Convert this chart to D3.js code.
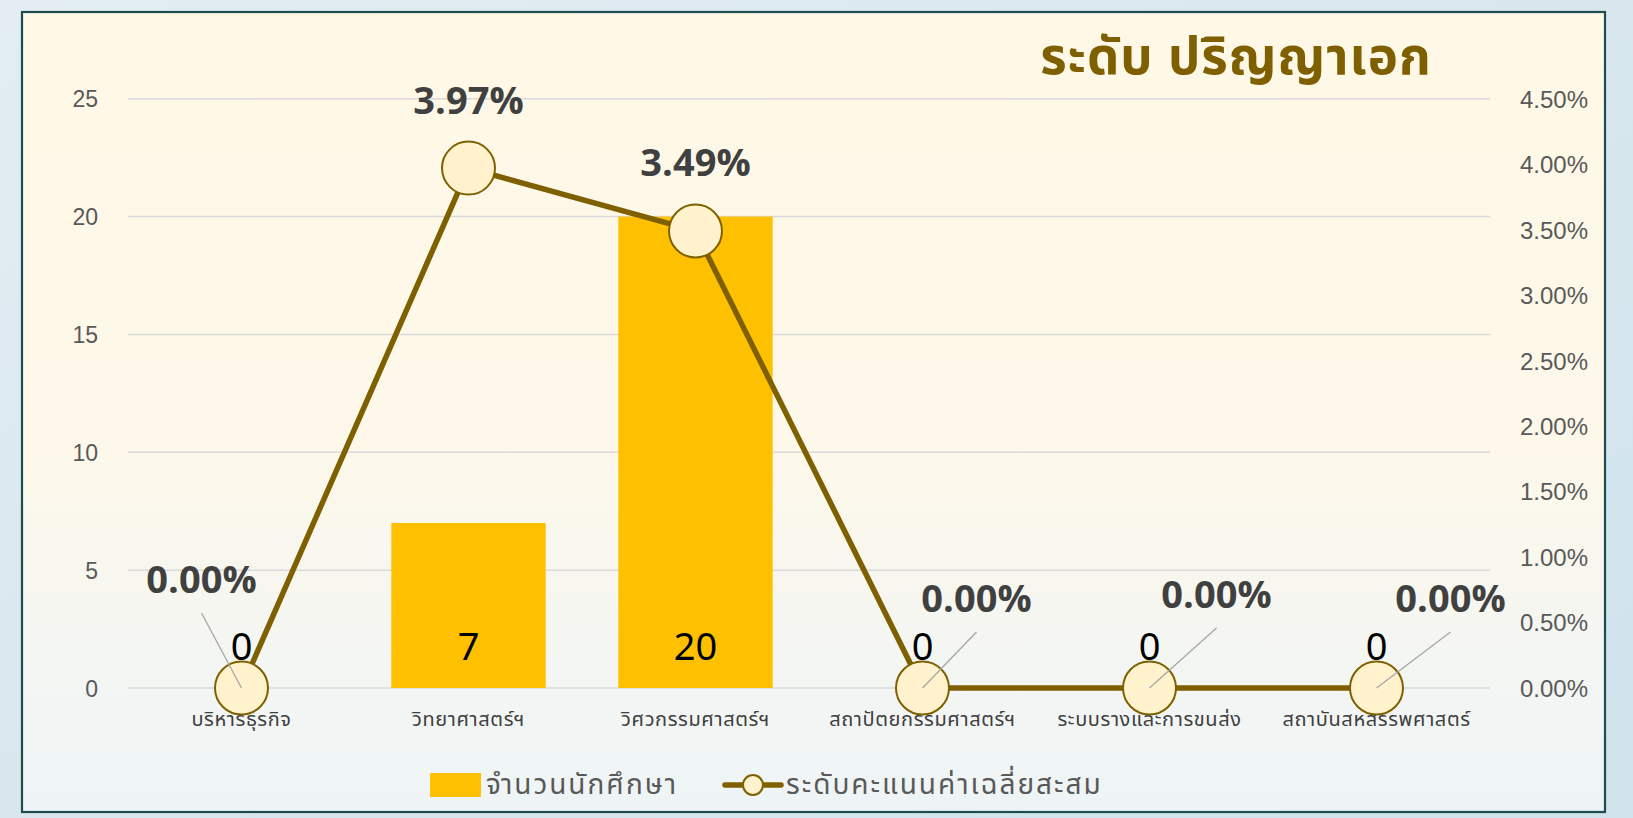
<!DOCTYPE html>
<html>
<head>
<meta charset="utf-8">
<script src="https://cdn.jsdelivr.net/npm/d3@7"></script>
<style>
  html, body { margin: 0; padding: 0; background: #dbe8ef; }
  svg { display: block; font-family: "Noto Sans Thai", "Noto Sans", "DejaVu Sans", sans-serif; }
</style>
</head>
<body>
<div id="chart"></div>
<script>
// chart data
var categories = ["บริหารธุรกิจ", "วิทยาศาสตร์ฯ", "วิศวกรรมศาสตร์ฯ", "สถาปัตยกรรมศาสตร์ฯ", "ระบบรางและการขนส่ง", "สถาบันสหสรรพศาสตร์"];
var students = [0, 7, 20, 0, 0, 0];
var gpaPct = [0.00, 3.97, 3.49, 0.00, 0.00, 0.00];
var leftTicks = [0, 5, 10, 15, 20, 25];
var rightTicks = [0, 0.5, 1, 1.5, 2, 2.5, 3, 3.5, 4, 4.5];
var seriesNames = ["จำนวนนักศึกษา", "ระดับคะแนนค่าเฉลี่ยสะสม"];
var title = "ระดับ ปริญญาเอก";

// label nudges (dx, dy from the point) for the percent labels
var pctLabelOffset = [[-40, -95], [0, -54], [0, -55], [54, -76], [67, -80], [74, -76]];

var W = 1633, H = 818;
var plot = {left: 128, right: 1490, top: 98.7, bottom: 688};

var svg = d3.select("#chart").append("svg")
    .attr("width", W)
    .attr("height", H);

var defs = svg.append("defs");
var grad = defs.append("linearGradient").attr("id", "bg").attr("x1", 0).attr("y1", 0).attr("x2", 0).attr("y2", 1);
grad.append("stop").attr("offset", "0%").attr("stop-color", "#fff8e6");
grad.append("stop").attr("offset", "55%").attr("stop-color", "#fdf8ea");
grad.append("stop").attr("offset", "80%").attr("stop-color", "#f4f6f2");
grad.append("stop").attr("offset", "100%").attr("stop-color", "#eef4f6");

var outer = defs.append("linearGradient").attr("id", "outer").attr("x1", 0).attr("y1", 0).attr("x2", 1).attr("y2", 1);
outer.append("stop").attr("offset", "0%").attr("stop-color", "#e3edf3");
outer.append("stop").attr("offset", "50%").attr("stop-color", "#d8e7ee");
outer.append("stop").attr("offset", "100%").attr("stop-color", "#cfe3ec");

svg.append("rect").attr("width", W).attr("height", H).attr("fill", "url(#outer)");

// frame
svg.append("rect")
    .attr("x", 22).attr("y", 12)
    .attr("width", 1583).attr("height", 800)
    .attr("fill", "url(#bg)")
    .attr("stroke", "#1d4d4f")
    .attr("stroke-width", 2.2);

// scales
var x = d3.scaleBand()
    .domain(categories)
    .range([plot.left, plot.right])
    .paddingInner(0.32)
    .paddingOuter(0.16);

var yL = d3.scaleLinear().domain([0, 25]).range([plot.bottom, plot.top]);
var yR = d3.scaleLinear().domain([0, 4.5]).range([plot.bottom, plot.top]);

var cx = function(i) { return x(categories[i]) + x.bandwidth() / 2; };

// gridlines
svg.append("g")
  .selectAll("line")
  .data(leftTicks)
  .enter()
    .append("line")
    .attr("x1", plot.left).attr("x2", plot.right)
    .attr("y1", function(d) { return yL(d); })
    .attr("y2", function(d) { return yL(d); })
    .attr("stroke", "#d9d9d9")
    .attr("stroke-width", 1.5);

// left axis
var axL = svg.append("g")
    .attr("transform", "translate(" + (plot.left - 30) + ",0)")
    .call(d3.axisLeft(yL).tickValues(leftTicks).tickSize(0).tickPadding(0));
axL.select(".domain").remove();
axL.selectAll("text")
    .attr("fill", "#595959")
    .style("font-size", "23px")
    .attr("dy", "0.35em");

// right axis
var axR = svg.append("g")
    .attr("transform", "translate(" + (plot.right + 30) + ",0)")
    .call(d3.axisRight(yR).tickValues(rightTicks).tickSize(0).tickPadding(0)
      .tickFormat(function(d) { return d3.format(".2f")(d) + "%"; }));
axR.select(".domain").remove();
axR.selectAll("text")
    .attr("fill", "#595959")
    .style("font-size", "24px")
    .attr("dy", "0.35em");

// category labels
svg.append("g")
  .selectAll("text")
  .data(categories)
  .enter()
    .append("text")
    .attr("x", function(d, i) { return cx(i); })
    .attr("y", plot.bottom + 38)
    .attr("text-anchor", "middle")
    .attr("fill", "#404040")
    .style("font-size", "20px")
    .style("letter-spacing", "0.6px")
    .text(function(d) { return d; });

// bars
svg.append("g")
  .selectAll("rect")
  .data(students)
  .enter()
    .append("rect")
    .attr("x", function(d, i) { return x(categories[i]); })
    .attr("y", function(d) { return yL(d); })
    .attr("width", x.bandwidth())
    .attr("height", function(d) { return yL(0) - yL(d); })
    .attr("fill", "#ffc000");

// bar value labels (inside base)
svg.append("g")
  .selectAll("text")
  .data(students)
  .enter()
    .append("text")
    .attr("x", function(d, i) { return cx(i); })
    .attr("y", plot.bottom - 28)
    .attr("text-anchor", "middle")
    .attr("fill", "#000")
    .style("font-size", "38px")
    .text(function(d) { return d; });

// line
var line = d3.line()
    .x(function(d, i) { return cx(i); })
    .y(function(d) { return yR(d); });

svg.append("path")
    .datum(gpaPct)
    .attr("d", line)
    .attr("fill", "none")
    .attr("stroke", "#7f6000")
    .attr("stroke-width", 5.5)
    .attr("stroke-linejoin", "round");

svg.append("g")
  .selectAll("circle")
  .data(gpaPct)
  .enter()
    .append("circle")
    .attr("cx", function(d, i) { return cx(i); })
    .attr("cy", function(d) { return yR(d); })
    .attr("r", 26.5)
    .attr("fill", "#fff2cc")
    .attr("stroke", "#7f6000")
    .attr("stroke-width", 2);

// leader lines for moved labels
var leaders = svg.append("g");
gpaPct.forEach(function(d, i) {
  var off = pctLabelOffset[i];
  if (Math.abs(off[0]) < 10) return;
  leaders.append("line")
    .attr("x1", cx(i) + off[0])
    .attr("y1", yR(d) + off[1] + 20)
    .attr("x2", cx(i))
    .attr("y2", yR(d))
    .attr("stroke", "#a6a6a6")
    .attr("stroke-width", 1.3);
});

// percent labels
svg.append("g")
  .selectAll("text")
  .data(gpaPct)
  .enter()
    .append("text")
    .attr("x", function(d, i) { return cx(i) + pctLabelOffset[i][0]; })
    .attr("y", function(d, i) { return yR(d) + pctLabelOffset[i][1]; })
    .attr("text-anchor", "middle")
    .attr("fill", "#404040")
    .style("font-size", "38px")
    .style("font-weight", "bold")
    .text(function(d) { return d3.format(".2f")(d) + "%"; });

// title
svg.append("text")
    .attr("x", 1236)
    .attr("y", 74)
    .attr("text-anchor", "middle")
    .attr("fill", "#7f6000")
    .style("font-size", "51px")
    .style("font-weight", "bold")
    .style("letter-spacing", "1px")
    .text(title);

// legend
var lg = svg.append("g");
lg.append("rect")
    .attr("x", 430).attr("y", 773)
    .attr("width", 51).attr("height", 24)
    .attr("fill", "#ffc000");
lg.append("text")
    .attr("x", 486).attr("y", 794)
    .attr("fill", "#595959")
    .style("font-size", "28px")
    .style("letter-spacing", "2px")
    .text(seriesNames[0]);
lg.append("line")
    .attr("x1", 725).attr("x2", 781)
    .attr("y1", 785).attr("y2", 785)
    .attr("stroke", "#7f6000")
    .attr("stroke-width", 5.5)
    .attr("stroke-linecap", "round");
lg.append("circle")
    .attr("cx", 753).attr("cy", 785)
    .attr("r", 10)
    .attr("fill", "#fff2cc")
    .attr("stroke", "#7f6000")
    .attr("stroke-width", 2);
lg.append("text")
    .attr("x", 786).attr("y", 794)
    .attr("fill", "#595959")
    .style("font-size", "28px")
    .style("letter-spacing", "2px")
    .text(seriesNames[1]);
</script>
</body>
</html>
